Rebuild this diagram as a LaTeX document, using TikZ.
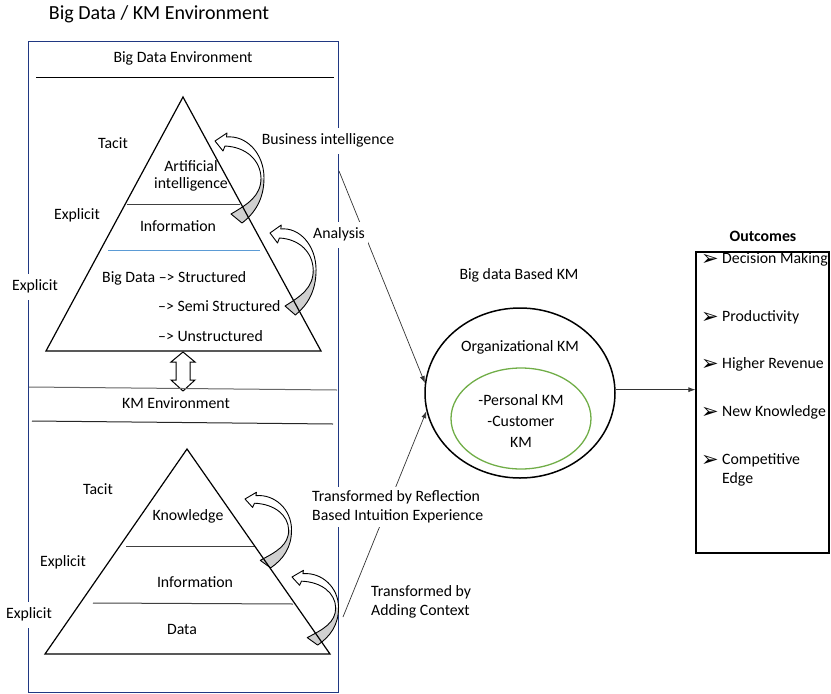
\documentclass[tikz,border=0pt]{standalone}
\usepackage{fontspec}
\setmainfont{Carlito}
\newfontfamily\dejavu{DejaVu Sans}
\usetikzlibrary{shapes.geometric,arrows.meta}

\definecolor{boxblue}{RGB}{32,56,130}
\definecolor{lightblue}{RGB}{91,155,213}
\definecolor{kmgreen}{RGB}{112,173,71}
\definecolor{tailgray}{RGB}{208,208,208}

\newcommand{\bfnt}{\fontsize{15.8}{19}\selectfont}
\newcommand{\ttlfnt}{\fontsize{20}{24}\selectfont}
\newcommand{\arrglyph}{{\dejavu\fontsize{21}{24}\selectfont ➢}}

\newcommand{\curvarr}[4]{%
  \begin{scope}[shift={(#1,#2)},xscale=#3,yscale=#4]
    \path[fill=white] (0,0) -- (12,-8) -- (11.5,-4) .. controls (31,-6) and (49,12) .. (49,37)
      .. controls (49,58) and (40,72) .. (27,82) -- (16,73)
      .. controls (33,63) and (46,55) .. (46,37)
      .. controls (45.5,19) and (31,6) .. (10,5) -- (8,10) -- cycle;
    \fill[tailgray] (49,37) .. controls (49,58) and (40,72) .. (27,82) -- (16,73)
      .. controls (33,63) and (46,55) .. (46,37) -- cycle;
    \draw[line width=0.9pt,line join=round] (0,0) -- (12,-8) -- (11.5,-4) .. controls (31,-6) and (49,12) .. (49,37)
      .. controls (49,58) and (40,72) .. (27,82) -- (16,73)
      .. controls (33,63) and (46,55) .. (46,37)
      .. controls (45.5,19) and (31,6) .. (10,5) -- (8,10) -- cycle;
  \end{scope}}

\tikzset{
  txt/.style={font=\bfnt, inner sep=1pt, text height=11pt, text depth=3.5pt},
  mtxt/.style={font=\bfnt, inner sep=1pt, align=center},
  wlbl/.style={txt, fill=white, inner xsep=3pt, inner ysep=6pt},
  conn/.style={draw=black!80, line width=0.7pt, -{Latex[length=7pt,width=5pt]}},
  tri/.style={draw=black, line width=1.2pt, line join=miter},
  sepline/.style={draw=black!75, line width=1pt},
  bul/.style={inner sep=0pt},
}

\begin{document}
\begin{tikzpicture}[x=1pt,y=-1pt]
\useasboundingbox (0,0) rectangle (831,694);

% title
\node[font=\ttlfnt, inner sep=1pt] (title) at (159,14) {Big Data / KM Environment};

% environment box
\node[draw=boxblue, line width=1.6pt, minimum width=310pt, minimum height=651pt, inner sep=0pt] (envbox) at (183.5,366.8) {};

% big data header
\node[txt] (bdenv) at (183,59) {Big Data Environment};
\draw[sepline, draw=black] (36,77) -- (334,77);

% upper triangle interior lines
\draw[sepline] (127,204) -- (240,204);
\draw[lightblue, line width=1pt] (108,250) -- (260,250);

% upper texts
\node[txt] (tacit1) at (113,145) {Tacit};
\node[mtxt, font=\fontsize{15.8}{17}\selectfont] (ai) at (191,176) {Artificial\\intelligence};
\node[txt] (expl1) at (77,216) {Explicit};
\node[txt] (info1) at (178,228) {Information};
\node[wlbl] (expl2) at (35,287) {Explicit};
\node[txt, anchor=west] (bds) at (101,279) {Big Data –> Structured};
\node[txt, anchor=west] (semi) at (157,308) {–> Semi Structured};
\node[txt, anchor=west] (unst) at (157,338) {–> Unstructured};

% double block arrow
\draw[fill=white, line width=1pt, line join=miter] (183,352) -- (195,362) -- (190,362) -- (190,380) -- (195,380) -- (183,391)
  -- (171,380) -- (176,380) -- (176,362) -- (171,362) -- cycle;

% KM environment header
\draw[draw=black!60, line width=1pt] (29,387) -- (337,390);
\node[txt] (kmenv) at (176,405) {KM Environment};
\draw[sepline, draw=black!85] (32,421) -- (333,424);

% lower triangle interior lines
\draw[sepline] (126,546) -- (255,546);
\draw[sepline] (93,603) -- (293,604);

% lower texts
\node[txt] (tacit2) at (98,491) {Tacit};
\node[txt] (know) at (188,517) {Knowledge};
\node[txt] (expl3) at (63,563) {Explicit};
\node[txt] (info2) at (195,584) {Information};
\node[wlbl] (expl4) at (29,615) {Explicit};
\node[txt] (data) at (182,631) {Data};

% big data based KM ellipse
\node[txt] (bdkm) at (519,276) {Big data Based KM};
\node[draw=black, line width=1.5pt, ellipse, minimum width=190pt, minimum height=170pt, inner sep=0pt] (km) at (520,393) {};
\node[draw=kmgreen, line width=1.3pt, ellipse, minimum width=140pt, minimum height=101pt, inner sep=0pt] (gk) at (521,418.5) {};
\node[txt] (orgkm) at (520,348) {Organizational KM};
\node[mtxt, font=\fontsize{15.8}{21}\selectfont] (pkm) at (521,421) {-Personal KM\\-Customer\\KM};

% connectors
\coordinate (bistart) at (339,171);
\coordinate (trstart) at (343,617);
\draw[conn] (bistart) -- (km.174.6);
\draw[conn] (trstart) -- (km.191.4);

% labels on the right of the box
\node[wlbl] (bi) at (328,141) {Business intelligence};
\node[wlbl] (anal) at (339,235) {Analysis};
\node[mtxt, align=left, fill=white, inner xsep=3pt, inner ysep=4pt, anchor=west] (refl) at (309,507) {Transformed by Reflection\\Based Intuition Experience};
\node[mtxt, align=left, anchor=west] (ctx) at (370,602) {Transformed by\\Adding Context};

% outcomes
\node[draw=black, line width=1.2pt, minimum width=133pt, minimum height=301pt, inner sep=0pt] (outbox) at (762.5,402.5) {};
\node[txt, font=\bfnt\bfseries] (outt) at (763,238) {Outcomes};
\draw[conn] (km.2) -- (km.2 -| outbox.west);

\node[bul] (g1) at (710,260) {\arrglyph};
\node[txt, anchor=west] (o1) at (721,260) {Decision Making};
\node[bul] (g2) at (710,318) {\arrglyph};
\node[txt, anchor=west] (o2) at (721,318) {Productivity};
\node[bul] (g3) at (710,365) {\arrglyph};
\node[txt, anchor=west] (o3) at (721,365) {Higher Revenue};
\node[bul] (g4) at (710,413) {\arrglyph};
\node[txt, anchor=west] (o4) at (721,413) {New Knowledge};
\node[bul] (g5) at (710,461) {\arrglyph};
\node[mtxt, align=left, anchor=north west] (o5) at (721,452) {Competitive\\Edge};

% curved block arrows
\curvarr{215}{141}{1}{1}
\curvarr{270}{233}{0.94}{1}
\curvarr{245}{499}{0.95}{0.84}
\curvarr{292}{577}{0.95}{0.83}

% triangles
\coordinate (ua) at (183,97);
\coordinate (ur) at (321,351);
\coordinate (ul) at (46,351);
\draw[tri] (ua) -- (ur) -- (ul) -- cycle;
\coordinate (la) at (187,449);
\coordinate (lr) at (330,654);
\coordinate (ll) at (45,654);
\draw[tri] (la) -- (lr) -- (ll) -- cycle;
\end{tikzpicture}
\end{document}
